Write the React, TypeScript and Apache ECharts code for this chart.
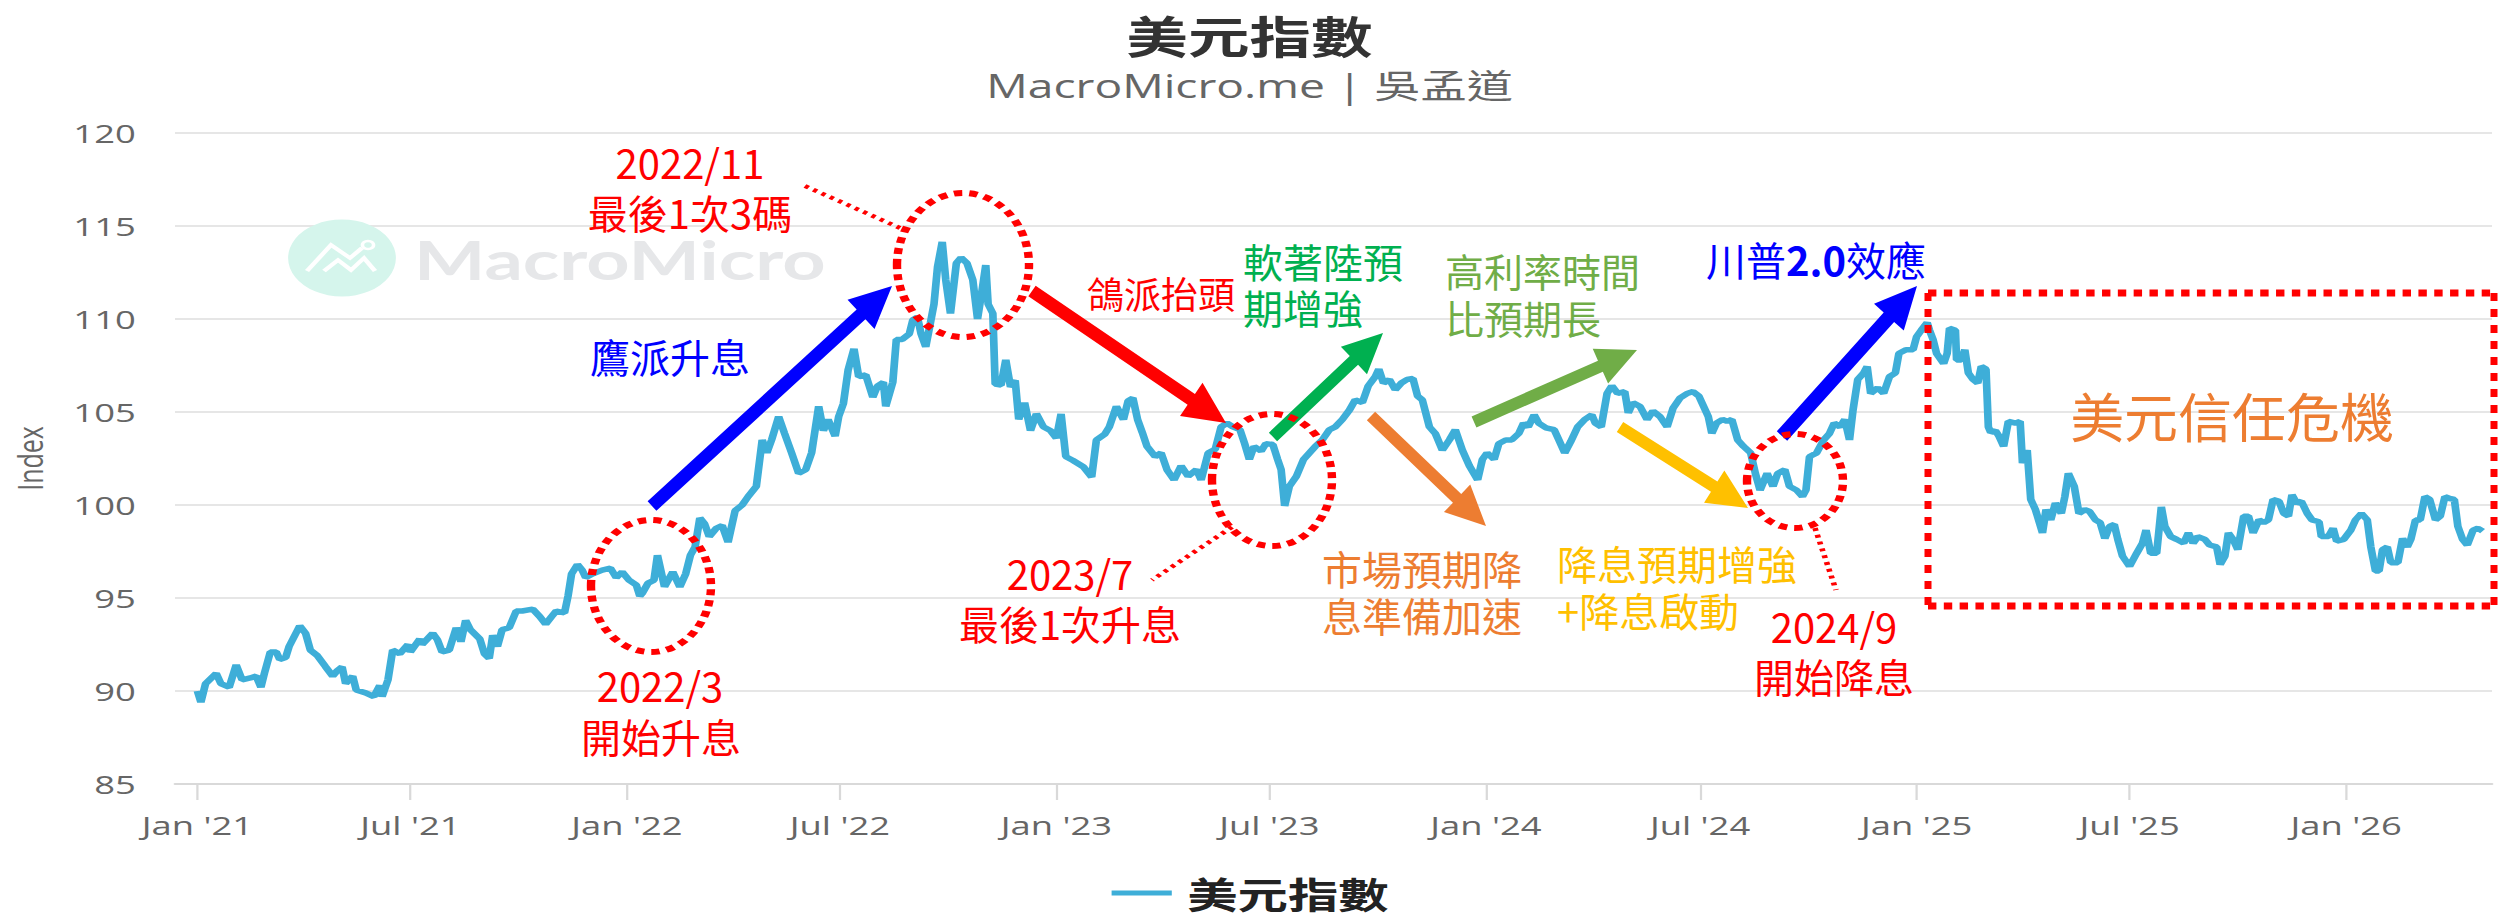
import React, { useEffect, useRef } from 'react';
import * as echarts from 'echarts';

// The reference screenshot is stretched horizontally; the chart is drawn in a
// narrower frame and widened by the same factor.
const S = 1.4;
const PAGE_W = 2499;
const PAGE_H = 919;
const INNER_W = PAGE_W / S;

const TITLE = '美元指數';
const SUBTITLE = 'MacroMicro.me | 吳孟道';
const SERIES_NAME = '美元指數';
const Y_NAME = 'Index';
const Y_MIN = 85;
const Y_MAX = 120;
const Y_STEP = 5;
const X_MIN = '2020-12-13';
const X_MAX = '2026-05-05';

const TICK_DATES = [
  '2021-01-01', '2021-07-01', '2022-01-01', '2022-07-01', '2023-01-01', '2023-07-01',
  '2024-01-01', '2024-07-01', '2025-01-01', '2025-07-01', '2026-01-01',
];
const TICK_LABELS = [
  "Jan '21", "Jul '21", "Jan '22", "Jul '22", "Jan '23", "Jul '23",
  "Jan '24", "Jul '24", "Jan '25", "Jul '25", "Jan '26",
];

type P = [string, number];

const DXY_2021: P[] = [
  ['2021-01-01', 90.0], ['2021-01-04', 89.4], ['2021-01-08', 90.4], ['2021-01-17', 90.95],
  ['2021-01-21', 90.4], ['2021-01-28', 90.2], ['2021-02-03', 91.4], ['2021-02-08', 90.6],
  ['2021-02-15', 90.7], ['2021-02-20', 90.8], ['2021-02-24', 90.2], ['2021-02-27', 90.95],
  ['2021-03-04', 92.1], ['2021-03-09', 92.1], ['2021-03-12', 91.7], ['2021-03-17', 91.8],
  ['2021-03-20', 92.4], ['2021-03-29', 93.5], ['2021-04-03', 93.1], ['2021-04-07', 92.2],
  ['2021-04-13', 91.9], ['2021-04-20', 91.3], ['2021-04-26', 90.8], ['2021-04-30', 91.1],
  ['2021-05-04', 91.3], ['2021-05-07', 90.4], ['2021-05-13', 90.8], ['2021-05-16', 90.05],
  ['2021-05-24', 89.9], ['2021-05-31', 89.7], ['2021-06-05', 90.3], ['2021-06-07', 89.7],
  ['2021-06-12', 90.6], ['2021-06-16', 92.2], ['2021-06-22', 92.0], ['2021-06-29', 92.5],
  ['2021-07-01', 92.1], ['2021-07-09', 92.8], ['2021-07-11', 92.5], ['2021-07-20', 93.1],
  ['2021-07-24', 92.75], ['2021-07-28', 92.1], ['2021-08-03', 92.2], ['2021-08-09', 93.4],
  ['2021-08-13', 92.65], ['2021-08-17', 93.8], ['2021-08-21', 93.3], ['2021-08-29', 92.8],
  ['2021-09-02', 92.0], ['2021-09-06', 91.75], ['2021-09-09', 93.0], ['2021-09-13', 92.4],
  ['2021-09-17', 93.3], ['2021-09-23', 93.4], ['2021-09-29', 94.3], ['2021-10-04', 94.3],
  ['2021-10-13', 94.4], ['2021-10-19', 94.0], ['2021-10-24', 93.6], ['2021-10-29', 94.0],
  ['2021-11-02', 94.3], ['2021-11-09', 94.2], ['2021-11-12', 95.1], ['2021-11-15', 96.3],
  ['2021-11-20', 96.8], ['2021-11-24', 96.5], ['2021-11-27', 96.1], ['2021-12-03', 96.3],
  ['2021-12-11', 96.5], ['2021-12-18', 96.6], ['2021-12-23', 96.1], ['2021-12-28', 96.4],
];

const DXY_2022: P[] = [
  ['2022-01-03', 95.95], ['2022-01-09', 95.7], ['2022-01-12', 95.1], ['2022-01-14', 95.25],
  ['2022-01-19', 95.8], ['2022-01-24', 95.95], ['2022-01-27', 97.3], ['2022-02-02', 95.6],
  ['2022-02-09', 96.4], ['2022-02-15', 95.6], ['2022-02-20', 96.3], ['2022-02-24', 97.3],
  ['2022-02-28', 97.75], ['2022-03-04', 99.3], ['2022-03-08', 99.0], ['2022-03-12', 98.3],
  ['2022-03-18', 98.75], ['2022-03-23', 98.9], ['2022-03-28', 98.0], ['2022-04-03', 99.7],
  ['2022-04-09', 100.0], ['2022-04-14', 100.45], ['2022-04-21', 101.0], ['2022-04-26', 103.5],
  ['2022-04-30', 102.8], ['2022-05-04', 103.5], ['2022-05-10', 104.75], ['2022-05-15', 103.85],
  ['2022-05-21', 102.8], ['2022-05-27', 101.7], ['2022-06-02', 101.9], ['2022-06-07', 102.8],
  ['2022-06-13', 105.3], ['2022-06-17', 104.0], ['2022-06-21', 104.6], ['2022-06-27', 103.7],
  ['2022-06-30', 104.75], ['2022-07-04', 105.45], ['2022-07-08', 107.25], ['2022-07-13', 108.4],
  ['2022-07-17', 106.9], ['2022-07-23', 107.0], ['2022-07-29', 105.8], ['2022-08-02', 106.4],
  ['2022-08-07', 106.6], ['2022-08-09', 105.3], ['2022-08-15', 106.6], ['2022-08-18', 108.9],
  ['2022-08-23', 108.9], ['2022-08-29', 109.2], ['2022-09-01', 109.95], ['2022-09-05', 110.1],
  ['2022-09-08', 109.2], ['2022-09-12', 108.5], ['2022-09-16', 109.8], ['2022-09-19', 110.8],
  ['2022-09-22', 112.8], ['2022-09-26', 114.15], ['2022-09-29', 112.1], ['2022-10-03', 110.3],
  ['2022-10-08', 113.0], ['2022-10-12', 113.3], ['2022-10-17', 113.0], ['2022-10-22', 112.1],
  ['2022-10-26', 110.0], ['2022-10-30', 111.6], ['2022-11-02', 112.9], ['2022-11-04', 110.8],
  ['2022-11-08', 110.3], ['2022-11-10', 106.5], ['2022-11-15', 106.45], ['2022-11-19', 107.8],
  ['2022-11-23', 106.35], ['2022-11-27', 106.7], ['2022-11-30', 104.6], ['2022-12-05', 105.5],
  ['2022-12-10', 104.0], ['2022-12-15', 104.9], ['2022-12-21', 104.2], ['2022-12-27', 104.0],
];

const DXY_2023: P[] = [
  ['2023-01-01', 103.6], ['2023-01-05', 104.9], ['2023-01-09', 102.6], ['2023-01-15', 102.4],
  ['2023-01-24', 102.05], ['2023-01-31', 101.5], ['2023-02-04', 103.5], ['2023-02-11', 103.8],
  ['2023-02-15', 104.2], ['2023-02-21', 105.3], ['2023-02-27', 104.6], ['2023-03-03', 105.6],
  ['2023-03-07', 105.75], ['2023-03-11', 104.6], ['2023-03-15', 103.9], ['2023-03-19', 103.15],
  ['2023-03-26', 102.6], ['2023-03-31', 102.8], ['2023-04-05', 101.9], ['2023-04-11', 101.35],
  ['2023-04-17', 102.1], ['2023-04-23', 101.55], ['2023-04-30', 101.9], ['2023-05-04', 101.35],
  ['2023-05-10', 102.8], ['2023-05-16', 103.0], ['2023-05-21', 104.2], ['2023-05-26', 104.4],
  ['2023-05-31', 104.2], ['2023-06-06', 104.05], ['2023-06-10', 103.3], ['2023-06-14', 102.45],
  ['2023-06-18', 103.15], ['2023-06-24', 102.9], ['2023-06-28', 103.3], ['2023-07-04', 103.25],
  ['2023-07-08', 102.45], ['2023-07-11', 101.9], ['2023-07-14', 99.95], ['2023-07-18', 101.0],
  ['2023-07-24', 101.55], ['2023-07-30', 102.45], ['2023-08-04', 102.8], ['2023-08-09', 103.15],
  ['2023-08-15', 103.5], ['2023-08-21', 104.05], ['2023-08-26', 104.2], ['2023-09-01', 104.6],
  ['2023-09-07', 105.1], ['2023-09-12', 105.65], ['2023-09-18', 105.5], ['2023-09-23', 106.4],
  ['2023-09-29', 106.9], ['2023-10-02', 107.3], ['2023-10-06', 106.55], ['2023-10-11', 106.75],
  ['2023-10-16', 106.2], ['2023-10-21', 106.55], ['2023-10-26', 106.75], ['2023-10-31', 106.8],
  ['2023-11-04', 105.85], ['2023-11-08', 105.65], ['2023-11-14', 104.2], ['2023-11-19', 103.85],
  ['2023-11-25', 102.95], ['2023-12-01', 103.5], ['2023-12-06', 104.05], ['2023-12-12', 102.95],
  ['2023-12-18', 102.1], ['2023-12-25', 101.35], ['2023-12-29', 102.45],
];

const DXY_2024: P[] = [
  ['2024-01-02', 102.8], ['2024-01-08', 102.45], ['2024-01-12', 103.3], ['2024-01-18', 103.5],
  ['2024-01-23', 103.5], ['2024-01-29', 103.85], ['2024-02-02', 104.4], ['2024-02-06', 104.2],
  ['2024-02-11', 104.85], ['2024-02-15', 104.4], ['2024-02-21', 104.15], ['2024-02-28', 104.05],
  ['2024-03-03', 103.5], ['2024-03-08', 102.8], ['2024-03-13', 103.4], ['2024-03-19', 104.2],
  ['2024-03-25', 104.6], ['2024-03-31', 104.85], ['2024-04-03', 104.4], ['2024-04-08', 104.2],
  ['2024-04-13', 106.0], ['2024-04-17', 106.4], ['2024-04-22', 106.0], ['2024-04-28', 106.1],
  ['2024-05-01', 104.95], ['2024-05-05', 105.5], ['2024-05-11', 105.3], ['2024-05-17', 104.6],
  ['2024-05-22', 105.05], ['2024-05-28', 104.75], ['2024-06-03', 104.2], ['2024-06-08', 105.2],
  ['2024-06-14', 105.75], ['2024-06-20', 106.0], ['2024-06-25', 106.1], ['2024-06-30', 105.85],
  ['2024-07-04', 105.3], ['2024-07-08', 104.75], ['2024-07-11', 103.85], ['2024-07-15', 104.4],
  ['2024-07-20', 104.6], ['2024-07-24', 104.5], ['2024-07-28', 104.6], ['2024-08-02', 103.5],
  ['2024-08-07', 103.15], ['2024-08-13', 102.8], ['2024-08-17', 101.7], ['2024-08-21', 100.8],
  ['2024-08-27', 101.7], ['2024-09-01', 101.0], ['2024-09-05', 101.7], ['2024-09-11', 101.9],
  ['2024-09-15', 101.0], ['2024-09-21', 100.8], ['2024-09-26', 100.45], ['2024-09-29', 100.8],
  ['2024-10-02', 102.6], ['2024-10-08', 102.8], ['2024-10-14', 103.5], ['2024-10-19', 103.85],
  ['2024-10-23', 104.4], ['2024-10-28', 104.2], ['2024-11-01', 104.6], ['2024-11-05', 103.5],
  ['2024-11-08', 105.1], ['2024-11-12', 106.75], ['2024-11-17', 107.1], ['2024-11-20', 107.45],
  ['2024-11-23', 106.0], ['2024-11-29', 106.3], ['2024-12-04', 106.0], ['2024-12-09', 106.9],
  ['2024-12-14', 107.1], ['2024-12-17', 108.15], ['2024-12-23', 108.35], ['2024-12-29', 108.35],
];

const DXY_2025: P[] = [
  ['2025-01-01', 109.05], ['2025-01-05', 109.4], ['2025-01-10', 109.8], ['2025-01-12', 109.4],
  ['2025-01-15', 108.9], ['2025-01-18', 108.15], ['2025-01-24', 107.6], ['2025-01-27', 108.15],
  ['2025-01-29', 109.5], ['2025-02-03', 109.4], ['2025-02-04', 107.8], ['2025-02-08', 107.8],
  ['2025-02-11', 108.35], ['2025-02-14', 107.1], ['2025-02-18', 106.75], ['2025-02-22', 106.55],
  ['2025-02-25', 107.45], ['2025-03-01', 107.3], ['2025-03-03', 104.2], ['2025-03-05', 103.9],
  ['2025-03-09', 104.0], ['2025-03-12', 103.7], ['2025-03-16', 103.15], ['2025-03-20', 104.5],
  ['2025-03-26', 104.4], ['2025-03-30', 104.5], ['2025-04-01', 102.25], ['2025-04-05', 102.95],
  ['2025-04-08', 100.3], ['2025-04-12', 99.75], ['2025-04-18', 98.5], ['2025-04-21', 99.75],
  ['2025-04-25', 99.2], ['2025-04-29', 100.1], ['2025-05-04', 99.55], ['2025-05-07', 100.45],
  ['2025-05-10', 101.7], ['2025-05-15', 101.0], ['2025-05-19', 99.55], ['2025-05-24', 99.75],
  ['2025-05-28', 99.65], ['2025-06-02', 99.2], ['2025-06-06', 99.05], ['2025-06-10', 98.2],
  ['2025-06-14', 98.85], ['2025-06-18', 98.95], ['2025-06-21', 98.15], ['2025-06-25', 97.25],
  ['2025-07-01', 96.7], ['2025-07-07', 97.4], ['2025-07-12', 97.95], ['2025-07-15', 98.65],
  ['2025-07-19', 97.4], ['2025-07-24', 97.4], ['2025-07-28', 99.9], ['2025-07-31', 98.85],
  ['2025-08-05', 98.3], ['2025-08-10', 98.15], ['2025-08-16', 97.95], ['2025-08-20', 98.5],
  ['2025-08-24', 97.95], ['2025-08-28', 98.3], ['2025-09-03', 98.15], ['2025-09-07', 97.85],
  ['2025-09-13', 97.75], ['2025-09-16', 96.8], ['2025-09-20', 97.25], ['2025-09-23', 98.5],
  ['2025-09-27', 98.15], ['2025-10-01', 97.6], ['2025-10-06', 99.4], ['2025-10-10', 99.4],
  ['2025-10-14', 98.5], ['2025-10-19', 99.2], ['2025-10-23', 99.05], ['2025-10-27', 99.2],
  ['2025-10-31', 100.3], ['2025-11-05', 100.2], ['2025-11-09', 99.55], ['2025-11-13', 99.4],
  ['2025-11-16', 100.55], ['2025-11-20', 100.1], ['2025-11-24', 100.2], ['2025-11-29', 99.55],
  ['2025-12-03', 99.2], ['2025-12-09', 99.1], ['2025-12-11', 98.3], ['2025-12-17', 98.3],
  ['2025-12-21', 98.75], ['2025-12-24', 98.05], ['2025-12-30', 98.15],
];

const DXY_2026: P[] = [
  ['2026-01-05', 98.65], ['2026-01-09', 99.2], ['2026-01-14', 99.55], ['2026-01-19', 99.2],
  ['2026-01-22', 97.75], ['2026-01-26', 96.45], ['2026-01-29', 96.45], ['2026-02-01', 97.6],
  ['2026-02-05', 97.75], ['2026-02-08', 96.9], ['2026-02-14', 96.9], ['2026-02-18', 98.2],
  ['2026-02-22', 97.75], ['2026-02-25', 98.15], ['2026-03-01', 99.2], ['2026-03-05', 99.2],
  ['2026-03-09', 100.45], ['2026-03-13', 100.3], ['2026-03-18', 99.2], ['2026-03-22', 99.4],
  ['2026-03-26', 100.45], ['2026-03-30', 100.35], ['2026-04-03', 100.3], ['2026-04-06', 98.85],
  ['2026-04-10', 98.15], ['2026-04-14', 97.85], ['2026-04-19', 98.65], ['2026-04-23', 98.75],
  ['2026-04-27', 98.6],
];

const CJK = "'Noto Sans CJK TC', 'Noto Sans', sans-serif";
const LATIN = "'Open Sans', 'Noto Sans CJK TC', sans-serif";

const RED = '#ff0000';
const BLUE = '#0000ff';
const GREEN = '#00b050';
const OLIVE = '#70ad47';
const ORANGE = '#ed7d31';
const YELLOW = '#ffc000';

function ts(s: string): number {
  const [y, m, d] = s.split('-').map(Number);
  return Date.UTC(y, m - 1, d);
}

const fx = (x: number) => x / S;

function text(t: string, x: number, y: number, color: string, size: number, align = 'center', extra: any = {}) {
  return {
    type: 'text',
    x: fx(x),
    y,
    scaleX: 1 / S,
    z: 100,
    style: {
      text: t,
      fill: color,
      fontSize: size,
      fontFamily: CJK,
      fontWeight: 'normal',
      align,
      verticalAlign: 'middle',
      ...extra,
    },
  };
}

function arrow(x1: number, y1: number, x2: number, y2: number, color: string, shaft = 13, headW = 40, headL = 42) {
  const dx = x2 - x1;
  const dy = y2 - y1;
  const len = Math.hypot(dx, dy);
  const ux = dx / len;
  const uy = dy / len;
  const px = -uy;
  const py = ux;
  const bx = x2 - ux * headL;
  const by = y2 - uy * headL;
  const pts = [
    [x1 + (px * shaft) / 2, y1 + (py * shaft) / 2],
    [bx + (px * shaft) / 2, by + (py * shaft) / 2],
    [bx + (px * headW) / 2, by + (py * headW) / 2],
    [x2, y2],
    [bx - (px * headW) / 2, by - (py * headW) / 2],
    [bx - (px * shaft) / 2, by - (py * shaft) / 2],
    [x1 - (px * shaft) / 2, y1 - (py * shaft) / 2],
  ].map(([x, y]) => [fx(x), y]);
  return { type: 'polygon', z: 90, shape: { points: pts }, style: { fill: color } };
}

function dottedEllipse(cx: number, cy: number, rx: number, ry: number) {
  return {
    type: 'ellipse',
    z: 95,
    shape: { cx: fx(cx), cy, rx: fx(rx), ry },
    style: { fill: 'none', stroke: RED, lineWidth: 6, lineDash: [6, 5] },
  };
}

function dottedLine(x1: number, y1: number, x2: number, y2: number, width = 4, dash = [3, 4]) {
  return {
    type: 'line',
    z: 95,
    shape: { x1: fx(x1), y1, x2: fx(x2), y2 },
    style: { stroke: RED, lineWidth: width, lineDash: dash },
  };
}

function buildGraphic() {
  const g: any[] = [];
  // watermark
  g.push({ type: 'circle', z: 1, shape: { cx: fx(342), cy: 258, r: 38.5 }, style: { fill: '#d5f5ec' } });
  g.push({
    type: 'polyline', z: 1,
    shape: { points: [[307, 271], [331, 245], [350, 258], [362, 248]].map(([x, y]) => [fx(x), y]) },
    style: { stroke: '#ffffff', lineWidth: 3.5, fill: 'none' },
  });
  g.push({
    type: 'polyline', z: 1,
    shape: { points: [[324, 271], [338, 260], [351, 270], [364, 258], [375, 271]].map(([x, y]) => [fx(x), y]) },
    style: { stroke: '#ffffff', lineWidth: 3.5, fill: 'none' },
  });
  g.push({ type: 'circle', z: 1, shape: { cx: fx(368), cy: 245, r: 4 }, style: { fill: 'none', stroke: '#ffffff', lineWidth: 2.5 } });
  g.push({
    type: 'text', z: 1, x: fx(414), y: 259,
    style: { text: 'MacroMicro', fill: '#e6e7e9', fontSize: 54, fontFamily: "Lato, 'Open Sans', sans-serif", fontWeight: 'bold', align: 'left', verticalAlign: 'middle' },
  });

  // circles and connectors
  g.push(dottedEllipse(651, 586, 60, 66));
  g.push(dottedEllipse(963, 265, 66, 72));
  g.push(dottedEllipse(1272, 480, 60, 66));
  g.push(dottedEllipse(1795, 481, 48, 47));
  g.push(dottedLine(805, 186, 900, 228));
  g.push(dottedLine(1232, 527, 1152, 580));
  g.push(dottedLine(1815, 528, 1836, 590));

  // dotted rectangle
  g.push({ type: 'line', z: 95, shape: { x1: fx(1928), y1: 293, x2: fx(2496), y2: 293 }, style: { stroke: RED, lineWidth: 7, lineDash: [6, 5.3] } });
  g.push({ type: 'line', z: 95, shape: { x1: fx(1928), y1: 606, x2: fx(2496), y2: 606 }, style: { stroke: RED, lineWidth: 7, lineDash: [6, 5.3] } });
  g.push({ type: 'line', z: 95, shape: { x1: fx(1928), y1: 293, x2: fx(1928), y2: 606 }, style: { stroke: RED, lineWidth: 5, lineDash: [8, 8] } });
  g.push({ type: 'line', z: 95, shape: { x1: fx(2494), y1: 293, x2: fx(2494), y2: 606 }, style: { stroke: RED, lineWidth: 5, lineDash: [8, 8] } });

  // arrows
  g.push(arrow(652, 506, 892, 286, BLUE));
  g.push(arrow(1032, 291, 1226, 423, RED));
  g.push(arrow(1273, 437, 1383, 333, GREEN, 12, 38, 40));
  g.push(arrow(1371, 416, 1486, 526, ORANGE, 12, 38, 40));
  g.push(arrow(1474, 422, 1637, 350, OLIVE, 12, 38, 40));
  g.push(arrow(1620, 427, 1748, 508, YELLOW, 12, 38, 40));
  g.push(arrow(1782, 436, 1917, 286, BLUE, 14, 40, 42));

  // texts
  g.push(text('2022/11', 690, 162, RED, 40));
  g.push(text('最後1次3碼', 690, 212, RED, 40));
  g.push(text('鷹派升息', 670, 356, BLUE, 40));
  g.push(text('2022/3', 660, 685, RED, 40));
  g.push(text('開始升息', 661, 736, RED, 40));
  g.push(text('鴿派抬頭', 1161, 293, RED, 37));
  g.push(text('2023/7', 1070, 573, RED, 40));
  g.push(text('最後1次升息', 1070, 623, RED, 40));
  g.push(text('軟著陸預', 1243, 261, GREEN, 40, 'left'));
  g.push(text('期增強', 1243, 307, GREEN, 40, 'left'));
  g.push(text('高利率時間', 1445, 270, OLIVE, 39, 'left'));
  g.push(text('比預期長', 1445, 317, OLIVE, 39, 'left'));
  g.push(text('市場預期降', 1322, 568, ORANGE, 40, 'left'));
  g.push(text('息準備加速', 1322, 615, ORANGE, 40, 'left'));
  g.push(text('降息預期增強', 1557, 563, YELLOW, 40, 'left'));
  g.push(text('+降息啟動', 1557, 610, YELLOW, 40, 'left'));
  g.push(text('2024/9', 1834, 626, RED, 40));
  g.push(text('開始降息', 1834, 676, RED, 40));
  g.push(text('{n|川普}{b|2.0}{n|效應}', 1816, 259, BLUE, 40, 'center', {
    rich: {
      n: { fontSize: 40, fontFamily: CJK, fill: BLUE },
      b: { fontSize: 40, fontFamily: CJK, fontWeight: 'bold', fill: BLUE },
    },
  }));
  g.push(text('美元信任危機', 2232, 414, ORANGE, 54));
  return g;
}

export default function App() {
  const ref = useRef<HTMLDivElement>(null);

  useEffect(() => {
    if (!ref.current) return;
    const chart = echarts.init(ref.current, null, { renderer: 'svg' });
    const tickTs = TICK_DATES.map(ts);
    const data = [...DXY_2021, ...DXY_2022, ...DXY_2023, ...DXY_2024, ...DXY_2025, ...DXY_2026].map(
      ([d, v]) => [ts(d), v],
    );
    const labelFor = (v: number) => {
      let best = -1;
      let bestDiff = Infinity;
      tickTs.forEach((t, i) => {
        const diff = Math.abs(t - v);
        if (diff < bestDiff) {
          bestDiff = diff;
          best = i;
        }
      });
      return best >= 0 && bestDiff < 3 * 86400000 ? TICK_LABELS[best] : '';
    };

    chart.setOption({
      animation: false,
      backgroundColor: '#ffffff',
      title: [
        {
          text: TITLE,
          left: 'center',
          top: 7,
          textStyle: { fontFamily: CJK, fontSize: 44, fontWeight: 'bold', color: '#333333', lineHeight: 46 },
        },
        {
          text: SUBTITLE,
          left: 'center',
          top: 60,
          textStyle: { fontFamily: LATIN, fontSize: 33, fontWeight: 'normal', color: '#666666', lineHeight: 40 },
        },
      ],
      legend: {
        show: true,
        left: 789,
        top: 868,
        icon: 'rect',
        itemWidth: 43,
        itemHeight: 5,
        data: [SERIES_NAME],
        textStyle: { fontFamily: CJK, fontSize: 36, fontWeight: 'bold', color: '#222222', lineHeight: 40, padding: [0, 0, 0, 6] },
      },
      grid: { left: 125, right: INNER_W - 1780, top: 133, bottom: 135, containLabel: false },
      xAxis: {
        type: 'value',
        min: ts(X_MIN),
        max: ts(X_MAX),
        axisLine: { show: true, lineStyle: { color: '#d9d9d9', width: 2 } },
        axisTick: { show: true, customValues: tickTs, length: 16, lineStyle: { color: '#d9d9d9', width: 1.6 } },
        axisLabel: {
          customValues: tickTs,
          formatter: (v: number) => labelFor(v),
          fontFamily: LATIN,
          fontSize: 26,
          color: '#666666',
          margin: 28,
        },
        splitLine: { show: false },
      },
      yAxis: {
        type: 'value',
        min: Y_MIN,
        max: Y_MAX,
        interval: Y_STEP,
        name: Y_NAME,
        nameLocation: 'middle',
        nameGap: 92,
        nameTextStyle: { fontFamily: LATIN, fontSize: 25, color: '#666666' },
        axisLine: { show: false },
        axisTick: { show: false },
        axisLabel: { fontFamily: LATIN, fontSize: 26, color: '#666666', margin: 28 },
        splitLine: { lineStyle: { color: '#e6e6e6', width: 2 } },
      },
      series: [
        {
          type: 'line',
          name: SERIES_NAME,
          data,
          symbol: 'none',
          showSymbol: false,
          z: 3,
          lineStyle: { color: '#3eaed8', width: 5.5 },
          itemStyle: { color: '#3eaed8' },
        },
      ],
      graphic: buildGraphic(),
    });
    return () => chart.dispose();
  }, []);

  return (
    <div
      style={{
        position: 'fixed',
        left: 0,
        top: 0,
        width: PAGE_W,
        height: PAGE_H,
        overflow: 'hidden',
        background: '#ffffff',
      }}
    >
      <div
        ref={ref}
        style={{ width: INNER_W, height: PAGE_H, transform: `scaleX(${S})`, transformOrigin: '0 0' }}
      />
    </div>
  );
}
